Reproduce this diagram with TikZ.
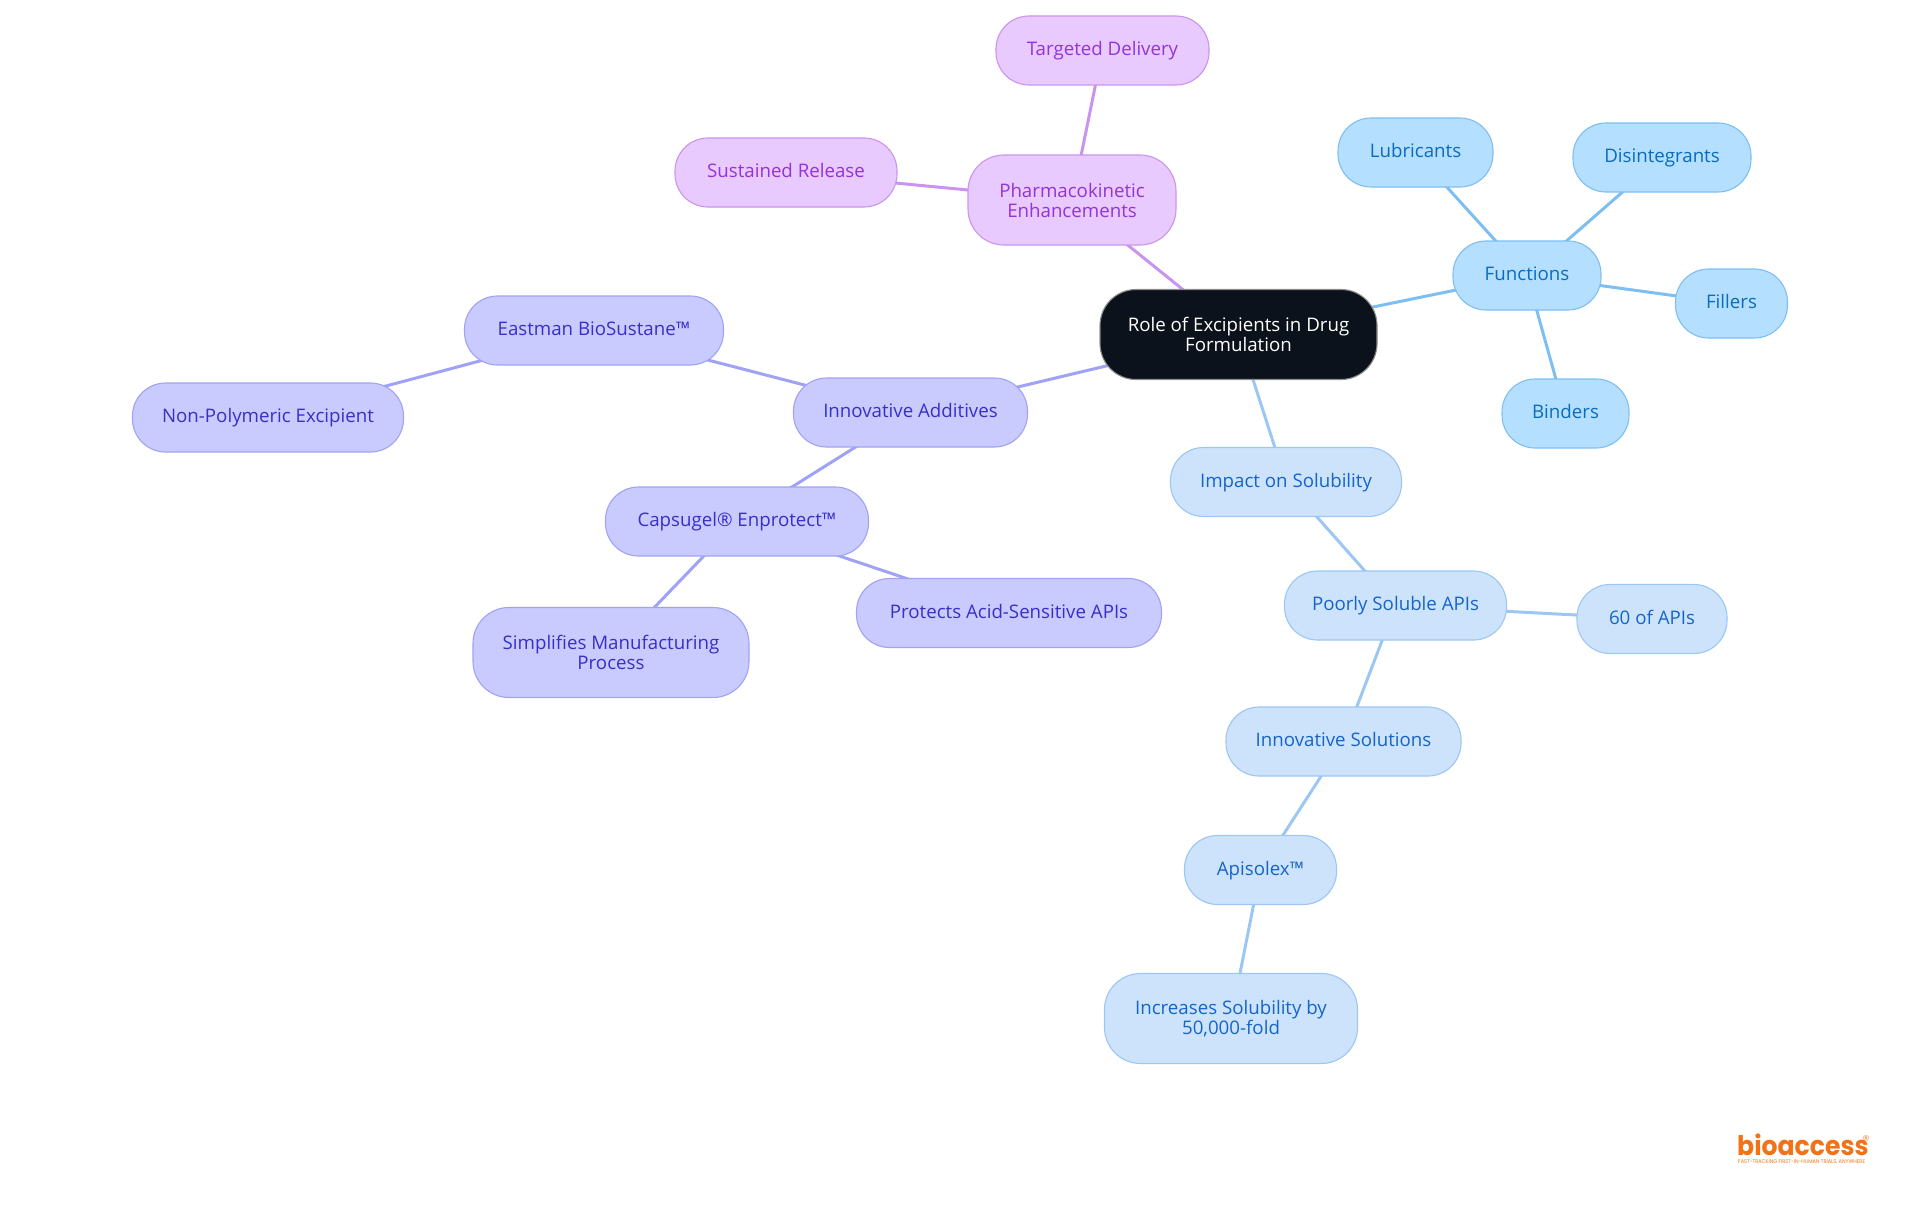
\documentclass[tikz,border=0pt]{standalone}
\usepackage{fontspec}
\setmainfont{Open Sans}
\newfontfamily\logofont[FakeStretch=0.93]{Poppins}
\newfontfamily\logomarkfont{DejaVu Sans}
\usetikzlibrary{backgrounds}
\definecolor{root-fill}{HTML}{0B121B}
\definecolor{func-fill}{HTML}{B5DFFE}
\definecolor{func-line}{HTML}{7DBFF2}
\definecolor{func-text}{HTML}{0A6CBE}
\definecolor{sol-fill}{HTML}{CDE3FC}
\definecolor{sol-line}{HTML}{9CC6F3}
\definecolor{sol-text}{HTML}{1565C8}
\definecolor{add-fill}{HTML}{C9CBFE}
\definecolor{add-line}{HTML}{A0A2F5}
\definecolor{add-text}{HTML}{3730C8}
\definecolor{pk-fill}{HTML}{E9CAFE}
\definecolor{pk-line}{HTML}{C994EF}
\definecolor{pk-text}{HTML}{9333D8}
\definecolor{logo-orange}{HTML}{F47216}
\tikzset{
  topic/.style={draw, rounded corners=33pt, line width=1.1pt, inner sep=0pt, align=center,
    minimum height=69pt, text height=14pt, text depth=4pt, font=\fontsize{18.7}{20}\selectfont},
  tall/.style={minimum height=90pt, rounded corners=36pt, text height=, text depth=},
  func/.style={topic, fill=func-fill, draw=func-line, text=func-text},
  sol/.style={topic, fill=sol-fill, draw=sol-line, text=sol-text},
  add/.style={topic, fill=add-fill, draw=add-line, text=add-text},
  pk/.style={topic, fill=pk-fill, draw=pk-line, text=pk-text},
  link/.style={line width=3pt},
}

\begin{document}
\begin{tikzpicture}[x=1pt,y=-1pt]
\useasboundingbox (0,0) rectangle (1920,1215);

\node[topic, tall, fill=root-fill, draw=black!45, text=white, minimum width=277pt] (root) at (1238.5,334.5) {Role of Excipients in Drug\\Formulation};

\node[pk, tall, minimum width=208pt] (pharma) at (1072,200) {Pharmacokinetic\\Enhancements};
\node[pk, minimum width=213pt] (targeted) at (1102.5,50.5) {Targeted Delivery};
\node[pk, minimum width=222pt] (sustained) at (786,172.5) {Sustained Release};

\node[func, minimum width=148pt] (functions) at (1527,275.5) {Functions};
\node[func, minimum width=155pt] (lubricants) at (1415.5,152.5) {Lubricants};
\node[func, minimum width=178pt] (disintegrants) at (1662,157.5) {Disintegrants};
\node[func, minimum width=112pt] (fillers) at (1731.5,303.5) {Fillers};
\node[func, minimum width=127pt] (binders) at (1565.5,413.5) {Binders};

\node[sol, minimum width=231pt] (impact) at (1286,482) {Impact on Solubility};
\node[sol, minimum width=222pt] (poorly) at (1395.5,605.5) {Poorly Soluble APIs};
\node[sol, minimum width=150pt] (sixty) at (1652,619) {60 of APIs};
\node[sol, minimum width=235pt] (solutions) at (1343.5,741.5) {Innovative Solutions};
\node[sol, minimum width=152pt] (apisolex) at (1260.5,870) {Apisolex™};
\node[sol, tall, minimum width=253pt] (increases) at (1231,1018.5) {Increases Solubility by\\50,000-fold};

\node[add, minimum width=234pt] (additives) at (910.5,412.5) {Innovative Additives};
\node[add, minimum width=259pt] (eastman) at (594,330.5) {Eastman BioSustane™};
\node[add, minimum width=271pt] (nonpoly) at (268,417.5) {Non-Polymeric Excipient};
\node[add, minimum width=263pt] (capsugel) at (737,521.5) {Capsugel® Enprotect™};
\node[add, tall, minimum width=276pt] (simplifies) at (611,652.5) {Simplifies Manufacturing\\Process};
\node[add, minimum width=305pt] (protects) at (1009,613) {Protects Acid-Sensitive APIs};

\node[inner sep=0pt, text=logo-orange, anchor=west, font=\logofont\bfseries\fontsize{27}{27}\selectfont] (logo) at (1737,1145) {bioaccess};
\node[inner sep=0pt, text=logo-orange, anchor=west, font=\logomarkfont\fontsize{8}{8}\selectfont] (logomark) at (1862,1139) {®};
\node[inner sep=0pt, text=logo-orange, anchor=west, font=\logofont\fontsize{5.4}{6}\selectfont] (tagline) at (1738,1162) {FAST-TRACKING FIRST-IN-HUMAN TRIALS, ANYWHERE};

\begin{scope}[on background layer]
\draw[link, pk-line] (root.center) -- (pharma.center);
\draw[link, pk-line] (pharma.center) -- (targeted.center);
\draw[link, pk-line] (pharma.center) -- (sustained.center);
\draw[link, func-line] (root.center) -- (functions.center);
\draw[link, func-line] (functions.center) -- (lubricants.center);
\draw[link, func-line] (functions.center) -- (disintegrants.center);
\draw[link, func-line] (functions.center) -- (fillers.center);
\draw[link, func-line] (functions.center) -- (binders.center);
\draw[link, sol-line] (root.center) -- (impact.center);
\draw[link, sol-line] (impact.center) -- (poorly.center);
\draw[link, sol-line] (poorly.center) -- (sixty.center);
\draw[link, sol-line] (poorly.center) -- (solutions.center);
\draw[link, sol-line] (solutions.center) -- (apisolex.center);
\draw[link, sol-line] (apisolex.center) -- (increases.center);
\draw[link, add-line] (root.center) -- (additives.center);
\draw[link, add-line] (additives.center) -- (eastman.center);
\draw[link, add-line] (eastman.center) -- (nonpoly.center);
\draw[link, add-line] (additives.center) -- (capsugel.center);
\draw[link, add-line] (capsugel.center) -- (simplifies.center);
\draw[link, add-line] (capsugel.center) -- (protects.center);
\end{scope}

\end{tikzpicture}
\end{document}
